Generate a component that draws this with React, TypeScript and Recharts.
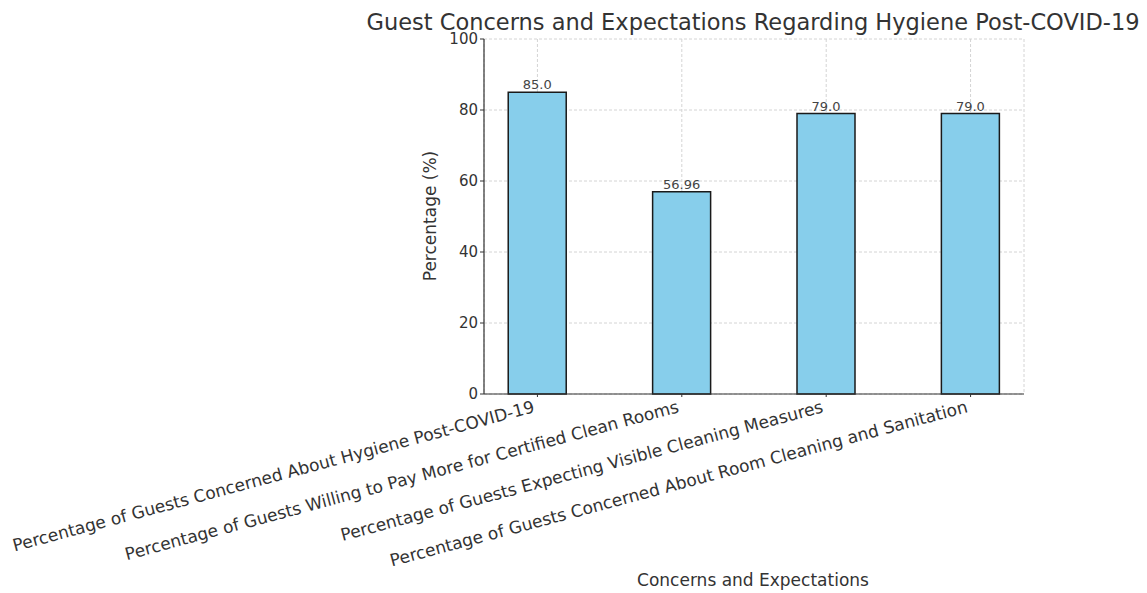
import React from 'react';
import { BarChart, Bar, XAxis, YAxis, CartesianGrid, LabelList } from 'recharts';

const categories = [
  'Percentage of Guests Concerned About Hygiene Post-COVID-19',
  'Percentage of Guests Willing to Pay More for Certified Clean Rooms',
  'Percentage of Guests Expecting Visible Cleaning Measures',
  'Percentage of Guests Concerned About Room Cleaning and Sanitation',
];
const values = [85.0, 56.96, 79.0, 79.0];
const yTicks = [0, 20, 40, 60, 80, 100];
const xTicks = [0, 1, 2, 3];

const title = 'Guest Concerns and Expectations Regarding Hygiene Post-COVID-19';
const xLabel = 'Concerns and Expectations';
const yLabel = 'Percentage (%)';

const data = categories.map((c, i) => ({ idx: i, name: c, value: values[i] }));

const FONT = '"DejaVu Sans", Verdana, sans-serif';
const TEXT = '#333';

const fmt = (v: any) => {
  const n = Number(v);
  return Number.isInteger(n) ? n.toFixed(1) : String(n);
};

const XTick = (props: any) => {
  const { x, y, payload } = props;
  const label = categories[payload.value];
  return (
    <g transform={`translate(${x - 2},${y + 13})`}>
      <text
        x={0}
        y={0}
        textAnchor="end"
        transform="rotate(-15)"
        fontSize={17}
        fontFamily={FONT}
        fill={TEXT}
      >
        {label}
      </text>
    </g>
  );
};

export default function App() {
  return (
    <div style={{ position: 'absolute', left: 0, top: 0, width: 1147, height: 593, background: '#fff' }}>
      <BarChart
        width={1147}
        height={593}
        data={data}
        margin={{ top: 39, right: 123, bottom: 169, left: 424 }}
      >
        <CartesianGrid stroke="#d4d4d4" strokeDasharray="3 2" vertical horizontal />
        <XAxis
          type="number"
          dataKey="idx"
          domain={[-0.37, 3.37]}
          ticks={xTicks}
          interval={0}
          height={30}
          tick={<XTick />}
          tickLine={{ stroke: '#333' }}
          tickSize={3}
          axisLine={{ stroke: '#333', strokeWidth: 1.2 }}
          allowDataOverflow
        />
        <YAxis
          type="number"
          domain={[0, 100]}
          ticks={yTicks}
          width={60}
          tickSize={4}
          tickLine={{ stroke: '#333' }}
          axisLine={{ stroke: '#333', strokeWidth: 1.2 }}
          tick={{ fontSize: 15, fontFamily: FONT, fill: TEXT }}
        />
        <Bar
          dataKey="value"
          fill="#87CEEB"
          stroke="#1a1a1a"
          strokeWidth={1.5}
          barSize={58}
          isAnimationActive={false}
        >
          <LabelList
            dataKey="value"
            position="top"
            offset={3}
            formatter={fmt}
            style={{ fontSize: 13, fontFamily: FONT, fill: '#444' }}
          />
        </Bar>
      </BarChart>
      <svg
        width={1147}
        height={593}
        style={{ position: 'absolute', left: 0, top: 0, pointerEvents: 'none' }}
      >
        <text x={753} y={30} textAnchor="middle" fontSize={22.5} fontFamily={FONT} fill={TEXT}>
          {title}
        </text>
        <text
          x={0}
          y={0}
          transform="translate(436,216) rotate(-90)"
          textAnchor="middle"
          fontSize={17}
          fontFamily={FONT}
          fill={TEXT}
        >
          {yLabel}
        </text>
        <text x={753} y={586} textAnchor="middle" fontSize={17} fontFamily={FONT} fill={TEXT}>
          {xLabel}
        </text>
      </svg>
    </div>
  );
}
